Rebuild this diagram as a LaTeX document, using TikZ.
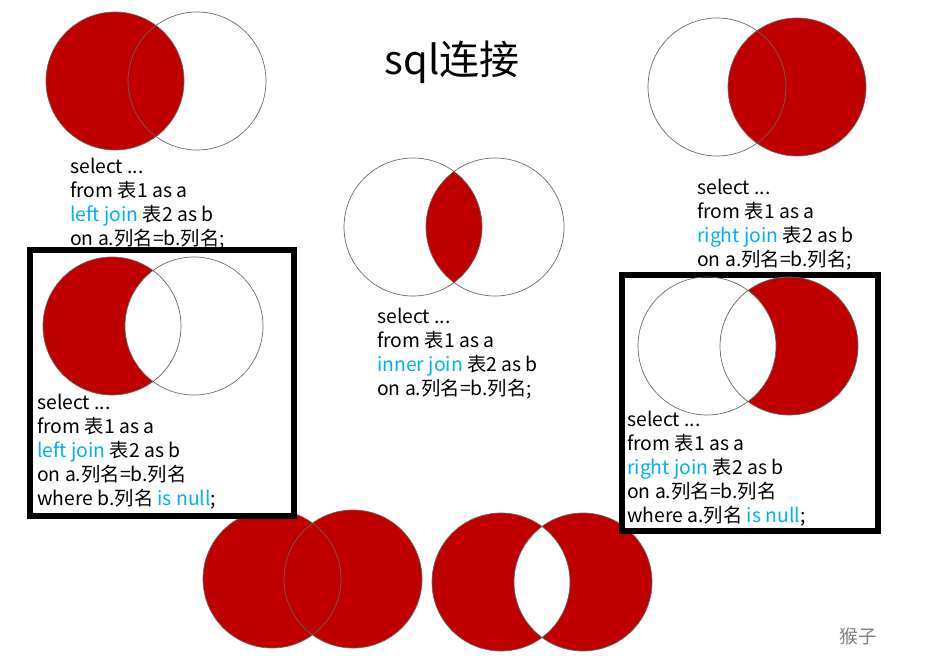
\documentclass[tikz,border=0pt]{standalone}
\usepackage{fontspec}
\setmainfont{Noto Sans CJK SC}
\definecolor{joinred}{RGB}{192,0,0}
\definecolor{joinblue}{RGB}{0,176,240}
\newcommand{\kw}[1]{\textcolor{joinblue}{#1}}

\begin{document}
\begin{tikzpicture}[x=0.75pt, y=-0.75pt,
    setline/.style={draw=black!60, line width=0.5pt},
    setfill/.style={fill=joinred},
    sqltext/.style={anchor=north west, inner sep=0pt, align=left,
                    font=\fontsize{14.5}{18}\selectfont},
    framebox/.style={draw=black, line width=4.5pt, fill=white}]

    \useasboundingbox[fill=white] (0,0) rectangle (942,656);

    % Centres of the sets
    \coordinate (ljA) at (115,81);  \coordinate (ljB) at (197,81);
    \coordinate (ijA) at (413,227); \coordinate (ijB) at (495,227);
    \coordinate (rjA) at (717,87);  \coordinate (rjB) at (797,87);
    \coordinate (fjA) at (272,579); \coordinate (fjB) at (353,579);
    \coordinate (xjA) at (501,582); \coordinate (xjB) at (583,582);
    \coordinate (lnA) at (112,326); \coordinate (lnB) at (194,326);
    \coordinate (rnA) at (707,346); \coordinate (rnB) at (789,346);

    % Left join
    \fill[setfill] (ljA) circle[radius=69];
    \draw[setline] (ljA) circle[radius=69] (ljB) circle[radius=69];

    % Inner join
    \begin{scope}
        \clip (ijA) circle[radius=69];
        \fill[setfill] (ijB) circle[radius=69];
    \end{scope}
    \draw[setline] (ijA) circle[radius=69] (ijB) circle[radius=69];

    % Right join
    \fill[setfill] (rjB) circle[radius=69];
    \draw[setline] (rjA) circle[radius=69] (rjB) circle[radius=69];

    % Full join and its complement of the intersection
    \fill[setfill] (fjA) circle[radius=69] (fjB) circle[radius=69];
    \draw[setline] (fjA) circle[radius=69] (fjB) circle[radius=69];
    \fill[setfill, even odd rule] (xjA) circle[radius=69] (xjB) circle[radius=69];
    \draw[setline] (xjA) circle[radius=69] (xjB) circle[radius=69];

    % Boxes
    \draw[framebox] (30,250) rectangle (294,516);
    \draw[framebox] (622,275) rectangle (878,531);

    % Left join, b is null
    \fill[setfill] (lnA) circle[radius=69];
    \begin{scope}
        \clip (lnA) circle[radius=69];
        \fill[white] (lnB) circle[radius=69];
    \end{scope}
    \draw[setline] (lnA) circle[radius=69] (lnB) circle[radius=69];

    % Right join, a is null
    \fill[setfill] (rnB) circle[radius=69];
    \begin{scope}
        \clip (rnB) circle[radius=69];
        \fill[white] (rnA) circle[radius=69];
    \end{scope}
    \draw[setline] (rnA) circle[radius=69] (rnB) circle[radius=69];

    % Texts
    \node[font=\fontsize{30}{36}\selectfont] (title) at (452,62) {sql连接};

    \node[sqltext] (leftText) at (70,158)
        {select ...\\from 表1 as a\\\kw{left join} 表2 as b\\on a.列名=b.列名;};
    \node[sqltext] (innerText) at (377,308)
        {select ...\\from 表1 as a\\\kw{inner join} 表2 as b\\on a.列名=b.列名;};
    \node[sqltext] (rightText) at (697,179)
        {select ...\\from 表1 as a\\\kw{right join} 表2 as b\\on a.列名=b.列名;};
    \node[sqltext] (leftNullText) at (37,394)
        {select ...\\from 表1 as a\\\kw{left join} 表2 as b\\on a.列名=b.列名\\where b.列名 \kw{is null};};
    \node[sqltext] (rightNullText) at (627,411)
        {select ...\\from 表1 as a\\\kw{right join} 表2 as b\\on a.列名=b.列名\\where a.列名 \kw{is null};};

    \node[text=black!50, font=\fontsize{14}{16}\selectfont] (mark) at (858,636) {猴子};

\end{tikzpicture}
\end{document}
